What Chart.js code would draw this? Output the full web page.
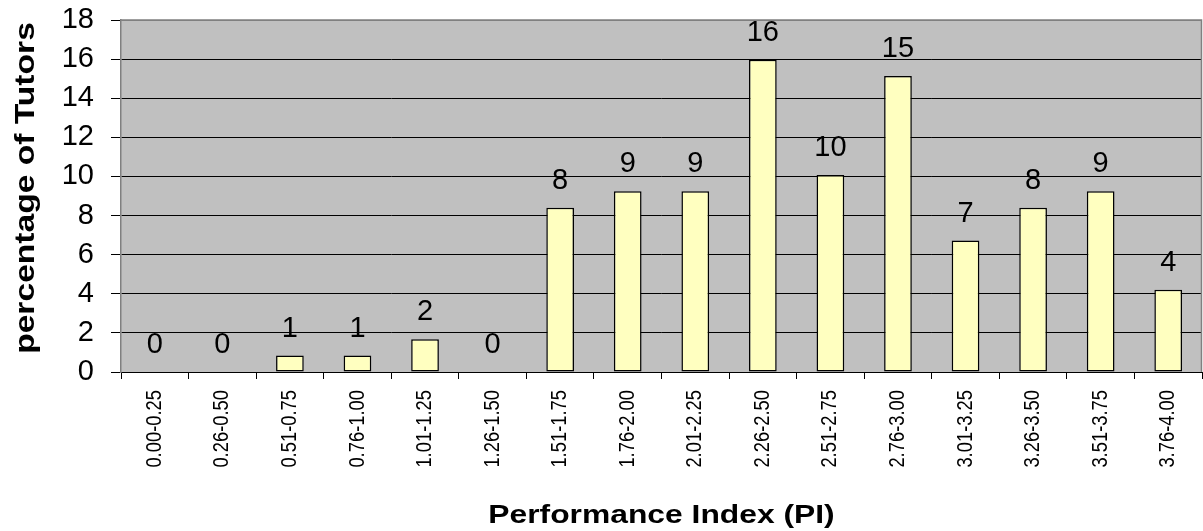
<!DOCTYPE html>
<html>
<head>
<meta charset="utf-8">
<script src="https://cdn.jsdelivr.net/npm/chart.js@4.4.1/dist/chart.umd.min.js"></script>
<style>
  html, body { margin: 0; padding: 0; background: #fff; }
  #kutu { position: relative; width: 1203px; height: 531px; }
</style>
</head>
<body>
<div id="kutu"><canvas id="grafik"></canvas></div>
<script>
// ── VERI ──
const araliklar = ['0.00-0.25', '0.26-0.50', '0.51-0.75', '0.76-1.00', '1.01-1.25', '1.26-1.50',
  '1.51-1.75', '1.76-2.00', '2.01-2.25', '2.26-2.50', '2.51-2.75', '2.76-3.00',
  '3.01-3.25', '3.26-3.50', '3.51-3.75', '3.76-4.00']
const yuzdeler = [0, 0, 0.84, 0.84, 1.68, 0, 8.40, 9.24, 9.24, 15.97, 10.08, 15.13, 6.72, 8.40, 9.24, 4.20]
const yEtiketleri = [0, 2, 4, 6, 8, 10, 12, 14, 16, 18]

const yaziTipi = '"Liberation Sans", Arial, sans-serif'

// Arka plan ve cerceve
const alanPlugin = {
  id: 'alan',
  beforeDraw(chart) {
    const { ctx, chartArea: a } = chart
    ctx.save()
    ctx.fillStyle = '#C0C0C0'
    ctx.fillRect(a.left, a.top, a.right - a.left, a.bottom - a.top)
    ctx.restore()
  },
  afterDraw(chart) {
    const { ctx, chartArea: a } = chart
    ctx.save()
    ctx.strokeStyle = '#808080'
    ctx.lineWidth = 1.5
    ctx.beginPath()
    ctx.moveTo(a.left, a.top)
    ctx.lineTo(a.right - 0.5, a.top)
    ctx.lineTo(a.right - 0.5, a.bottom)
    ctx.stroke()
    ctx.restore()
  }
}

// Cubuk ustu degerler
const degerPlugin = {
  id: 'deger',
  afterDatasetsDraw(chart) {
    const { ctx } = chart
    const meta = chart.getDatasetMeta(0)
    ctx.save()
    ctx.fillStyle = '#000'
    ctx.font = '29px ' + yaziTipi
    ctx.textAlign = 'center'
    ctx.textBaseline = 'alphabetic'
    meta.data.forEach((bar, i) => {
      ctx.fillText(String(Math.round(yuzdeler[i])), bar.x, bar.y - 19)
    })
    ctx.restore()
  }
}

// X etiketleri (dik, biraz dar) ve eksen basliklari (biraz genis)
const yaziPlugin = {
  id: 'yazi',
  afterDraw(chart) {
    const { ctx, chartArea: a } = chart
    const x = chart.scales.x

    ctx.save()
    ctx.fillStyle = '#000'
    ctx.font = '22px ' + yaziTipi
    ctx.textAlign = 'right'
    ctx.textBaseline = 'middle'
    araliklar.forEach((ad, i) => {
      ctx.save()
      ctx.translate(x.getPixelForValue(i), a.bottom + 18)
      ctx.rotate(-Math.PI / 2)
      ctx.scale(0.835, 1)
      ctx.fillText(ad, 0, 0)
      ctx.restore()
    })
    ctx.restore()

    ctx.save()
    ctx.fillStyle = '#000'
    ctx.textAlign = 'center'
    ctx.textBaseline = 'alphabetic'
    ctx.font = 'bold 26.5px ' + yaziTipi
    ctx.translate((a.left + a.right) / 2, 522.5)
    ctx.scale(1.2, 1)
    ctx.fillText('Performance Index (PI)', 0, 0)
    ctx.restore()

    ctx.save()
    ctx.fillStyle = '#000'
    ctx.textAlign = 'center'
    ctx.textBaseline = 'alphabetic'
    ctx.font = 'bold 28px ' + yaziTipi
    ctx.translate(33.5, 188)
    ctx.rotate(-Math.PI / 2)
    ctx.scale(1.2, 1)
    ctx.fillText('percentage of Tutors', 0, 0)
    ctx.restore()
  }
}

new Chart(document.getElementById('grafik'), {
  type: 'bar',
  data: {
    labels: araliklar,
    datasets: [{
      data: yuzdeler,
      backgroundColor: '#FFFFC0',
      borderColor: '#000',
      borderWidth: 1.5,
      borderSkipped: false,
      barPercentage: 0.41,
      categoryPercentage: 1
    }]
  },
  options: {
    responsive: true,
    maintainAspectRatio: false,
    animation: false,
    layout: { padding: { top: 20, right: 1, left: 0, bottom: 0 } },
    plugins: { legend: { display: false }, tooltip: { enabled: false } },
    scales: {
      x: {
        grid: { drawOnChartArea: false, drawTicks: true, tickLength: 7, color: '#000', offset: true },
        border: { color: '#000', width: 1 },
        ticks: { display: false },
        afterFit(scale) { scale.height = 159 }
      },
      y: {
        min: 0,
        max: 18,
        afterBuildTicks(scale) { scale.ticks = yEtiketleri.map(v => ({ value: v })) },
        grid: {
          color: ctx => (ctx.tick && ctx.tick.value === 18 ? '#808080' : '#000'),
          tickColor: '#000',
          tickLength: 10,
          lineWidth: 1
        },
        border: { color: '#808080', width: 1.5 },
        ticks: {
          color: '#000',
          font: { family: yaziTipi, size: 29 },
          padding: 17,
          autoSkip: false
        },
        afterFit(scale) {
          scale.width = 121
          scale.paddingTop = 0
          scale.paddingBottom = 0
        }
      }
    }
  },
  plugins: [alanPlugin, degerPlugin, yaziPlugin]
})
</script>
</body>
</html>
